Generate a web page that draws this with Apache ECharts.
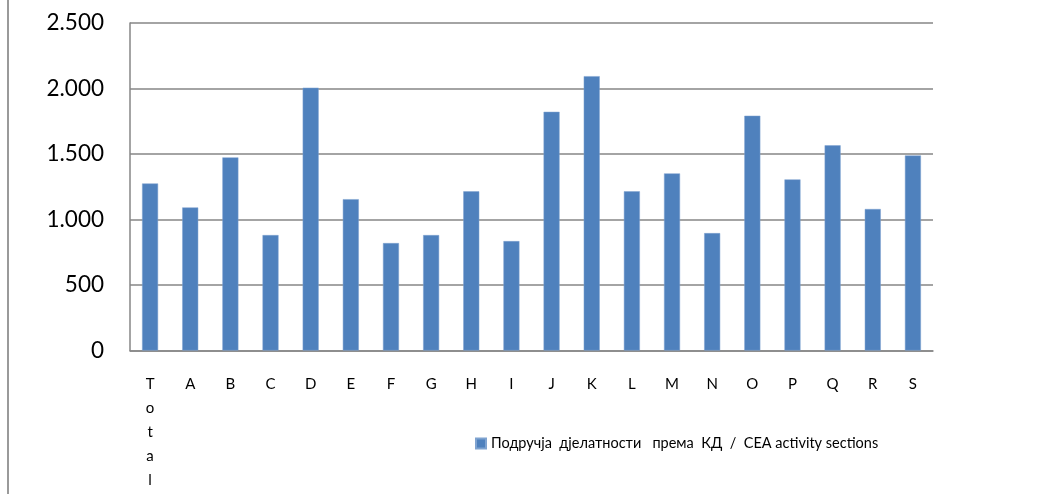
<!DOCTYPE html>
<html>
<head>
<meta charset="utf-8">
<script src="https://cdn.jsdelivr.net/npm/echarts@6/dist/echarts.min.js"></script>
<style>
  html, body { margin: 0; padding: 0; background: #fff; }
  #container { width: 1037px; height: 494px; }
</style>
</head>
<body>
<div id="container"></div>
<script>
var dom = document.getElementById("container");
var myChart = echarts.init(dom);

var categories = ["Total", "A", "B", "C", "D", "E", "F", "G", "H", "I",
                  "J", "K", "L", "M", "N", "O", "P", "Q", "R", "S"];
var values = [1275, 1092, 1474, 881, 2006, 1155, 820, 881, 1215, 835,
              1822, 2094, 1215, 1352, 896, 1792, 1306, 1566, 1080, 1489];
var seriesName = "Подручја  дјелатности   према  КД  /  CEA activity sections";

var option = {
    animation: false,
    backgroundColor: '#fff',
    textStyle: { fontFamily: 'Lato, "Open Sans", sans-serif' },
    grid: {
        left: 130,
        right: 104,
        top: 23,
        bottom: 143.5
    },
    legend: {
        data: [seriesName],
        left: 470,
        top: 431,
        itemWidth: 10,
        itemHeight: 10,
        itemGap: 5,
        icon: 'rect',
        textStyle: { fontSize: 14.5, color: '#000', fontFamily: 'Lato, sans-serif' }
    },
    xAxis: {
        type: 'category',
        data: categories,
        axisLine: { show: true, lineStyle: { color: '#868686', width: 1.5 } },
        axisTick: { show: false },
        axisLabel: {
            interval: 0,
            margin: 22,
            fontSize: 15,
            color: '#000',
            lineHeight: 24,
            formatter: function (v) {
                return v.length > 1 ? v.split('').join('\n') : v;
            }
        }
    },
    yAxis: {
        type: 'value',
        min: 0,
        max: 2500,
        interval: 500,
        axisLine: { show: true, lineStyle: { color: '#868686', width: 1.5 } },
        axisTick: { show: false },
        splitLine: { lineStyle: { color: '#868686', width: 1.5 } },
        axisLabel: {
            margin: 26,
            fontSize: 22.5,
            color: '#000',
            formatter: function (v) {
                return v >= 1000 ? Math.floor(v / 1000) + '.' + String(v % 1000).padStart(3, '0') : String(v);
            }
        }
    },
    graphic: [{
        type: 'line',
        shape: { x1: 8, y1: 0, x2: 8, y2: 494 },
        style: { stroke: '#9a9a9a', lineWidth: 2 }
    }],
    series: [{
        name: seriesName,
        type: 'bar',
        data: values,
        barWidth: 16,
        itemStyle: { color: '#4F81BD', borderColor: '#7FA3D0', borderWidth: 0.5 }
    }]
};

myChart.setOption(option);
</script>
</body>
</html>
